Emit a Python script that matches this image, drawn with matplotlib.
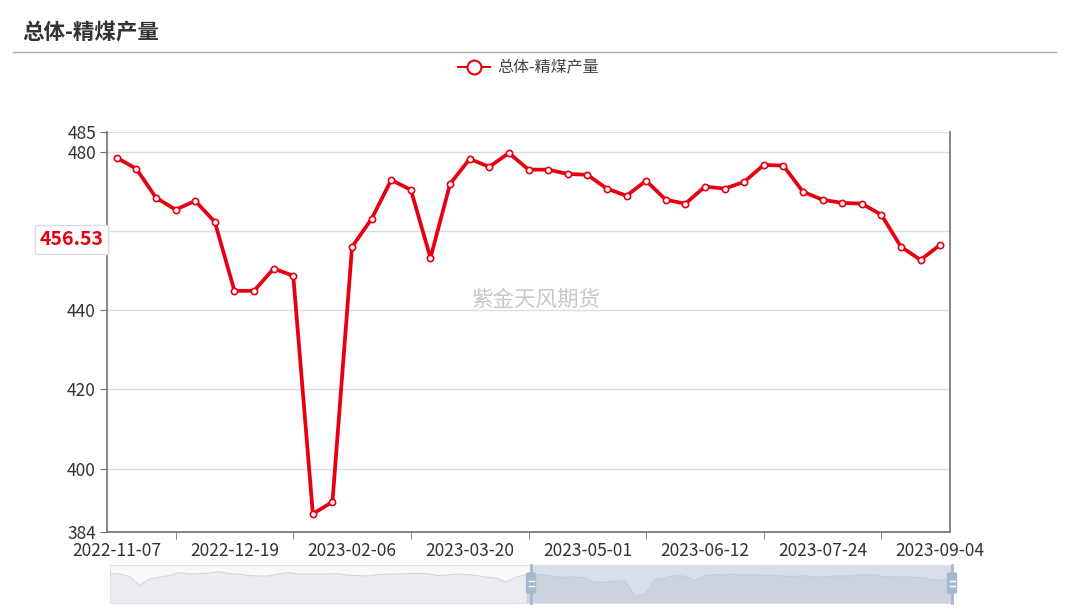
import matplotlib
matplotlib.use('Agg')
import matplotlib.pyplot as plt
import matplotlib.transforms as mtransforms
from matplotlib.lines import Line2D
from matplotlib.patches import FancyBboxPatch
import numpy as np

plt.rcParams['font.family'] = ['Noto Sans CJK SC', 'DejaVu Sans']

title = '总体-精煤产量'
series_name = '总体-精煤产量'
watermark = '紫金天风期货'

# weekly values shown in the main view (2022-11-07 .. 2023-09-04)
values = [478.5, 475.7, 468.4, 465.4, 467.6, 462.3, 444.9, 444.9, 450.5, 448.7,
          388.6, 391.6, 456.0, 463.1, 472.9, 470.4, 453.2, 471.9, 478.2, 476.2,
          479.7, 475.5, 475.5, 474.4, 474.2, 470.7, 468.9, 472.7, 467.9, 466.9,
          471.2, 470.7, 472.4, 476.7, 476.5, 469.9, 467.9, 467.1, 466.9, 464.1,
          456.0, 452.7, 456.53]
tick_labels = ['2022-11-07', '2022-12-19', '2023-02-06', '2023-03-20',
               '2023-05-01', '2023-06-12', '2023-07-24', '2023-09-04']
y_ticks = [384, 400, 420, 440, 460, 480, 485]

history = [482.6, 479.7, 469.0, 431.0, 458.7, 467.0, 473.4, 486.0, 479.7, 481.8,
           484.0, 490.0, 481.8, 479.7, 473.4, 471.3, 471.3, 479.7, 486.0, 479.7,
           479.7, 479.7, 479.7, 481.8, 475.5, 473.4, 471.3, 477.6, 479.7, 479.7,
           481.8, 481.8, 481.8, 473.4, 475.5, 479.7, 477.6, 473.4, 467.0, 463.0,
           446.0, 467.0, 477.6]

W, H = 1069, 613
fig = plt.figure(figsize=(W / 100, H / 100), dpi=100)


def fx(px):
    return px / W


def fy(py):
    return 1 - py / H


red = '#e60012'
axis_col = '#6e7079'
txt_col = '#333333'

# title + separator
fig.text(fx(22), fy(32), title, fontsize=15.5, fontweight='bold', color='#333333',
         ha='left', va='center')
fig.add_artist(Line2D([fx(13), fx(1056)], [fy(52), fy(52)], color='#aaaaaa', lw=1))

# legend
fig.add_artist(Line2D([fx(458), fx(490)], [fy(67), fy(67)], color=red, lw=1.5))
fig.add_artist(Line2D([fx(474)], [fy(67)], marker='o', markersize=10,
                      markerfacecolor='white', markeredgecolor=red, mew=1.5))
fig.text(fx(497), fy(67), series_name, fontsize=11.5, color='#444444', ha='left', va='center')

# main axes
ax = fig.add_axes([fx(107), fy(532), fx(950) - fx(107), fy(132) - fy(532)])
x = np.arange(len(values))
ax.plot(x, values, color=red, lw=2.7, marker='o', markersize=4.5,
        markerfacecolor='white', markeredgecolor=red, markeredgewidth=1.2, zorder=3,
        clip_on=False)
ax.set_xlim(-0.5, len(values) - 0.5)
ax.set_ylim(384, 485)

ax.set_yticks(y_ticks)
ax.set_yticklabels([str(v) for v in y_ticks], fontsize=12.5, color=txt_col)
ax.tick_params(axis='y', length=5, color=axis_col, pad=3)
for v in y_ticks[1:]:
    ax.axhline(v, color='#dddddd', lw=1, zorder=1)

lab_pos = list(range(0, len(values), 6))
ax.set_xticks(lab_pos)
ax.set_xticklabels(tick_labels, fontsize=12.5, color=txt_col)
ax.tick_params(axis='x', length=0, pad=7)
ax.set_xticks(list(range(3, len(values), 6)), minor=True)
ax.tick_params(axis='x', which='minor', length=5, color=axis_col)

ax.spines['top'].set_visible(False)
for s in ['left', 'bottom', 'right']:
    ax.spines[s].set_color(axis_col)
    ax.spines[s].set_linewidth(1.2)

ax.text(0.508, 0.58, watermark, transform=ax.transAxes, fontsize=15.5, color='#c8c8c8',
        ha='center', va='center', zorder=0)

# last value label on y axis
trans = mtransforms.blended_transform_factory(ax.transAxes, ax.transData)
ax.annotate('%.2f' % values[-1], xy=(-0.004, values[-1]), xycoords=trans,
            xytext=(0, 4), textcoords='offset points', ha='right', va='center',
            fontsize=14, fontweight='bold', color=red, zorder=5, annotation_clip=False,
            bbox=dict(boxstyle='square,pad=0.25', fc='white', ec='#dddddd', lw=1))

# zoom slider
sx = fig.add_axes([fx(110), fy(603), fx(952) - fx(110), fy(565) - fy(603)])
full = history + values
fxs = np.arange(len(full))
sx.set_xlim(0, len(full) - 1)
sx.set_ylim(358, 518)
sx.set_facecolor('#f8f9fa')
sx.fill_between(fxs, full, 358, color='#ebecef', lw=0)
sx.plot(fxs, full, color='#d2d6dc', lw=0.8)
start = len(full) / 2 - 0.5
sel = fxs >= start - 1
sx.axvspan(start, len(full) - 1, color='#d6dee9', lw=0)
sx.fill_between(fxs[sel], np.array(full)[sel], 358, color='#cbd3df', lw=0)
sx.plot(fxs[sel], np.array(full)[sel], color='#c2ccda', lw=0.8)
sx.set_xticks([])
sx.set_yticks([])
for s in sx.spines.values():
    s.set_color('#dde2ea')
for hpx in [531, 952]:
    fig.add_artist(Line2D([fx(hpx), fx(hpx)], [fy(603), fy(565)], color='#a7b7cc', lw=2))
    fig.patches.append(FancyBboxPatch((fx(hpx - 4.5), fy(593)), fx(9), fy(573) - fy(593),
                                      boxstyle='round,pad=0,rounding_size=0.002',
                                      fc='#a7b7cc', ec='#a7b7cc', transform=fig.transFigure))
    for ly in [581, 586]:
        fig.add_artist(Line2D([fx(hpx - 2.5), fx(hpx + 2.5)], [fy(ly), fy(ly)], color='white', lw=1))

fig.savefig('out.png', dpi=100)
